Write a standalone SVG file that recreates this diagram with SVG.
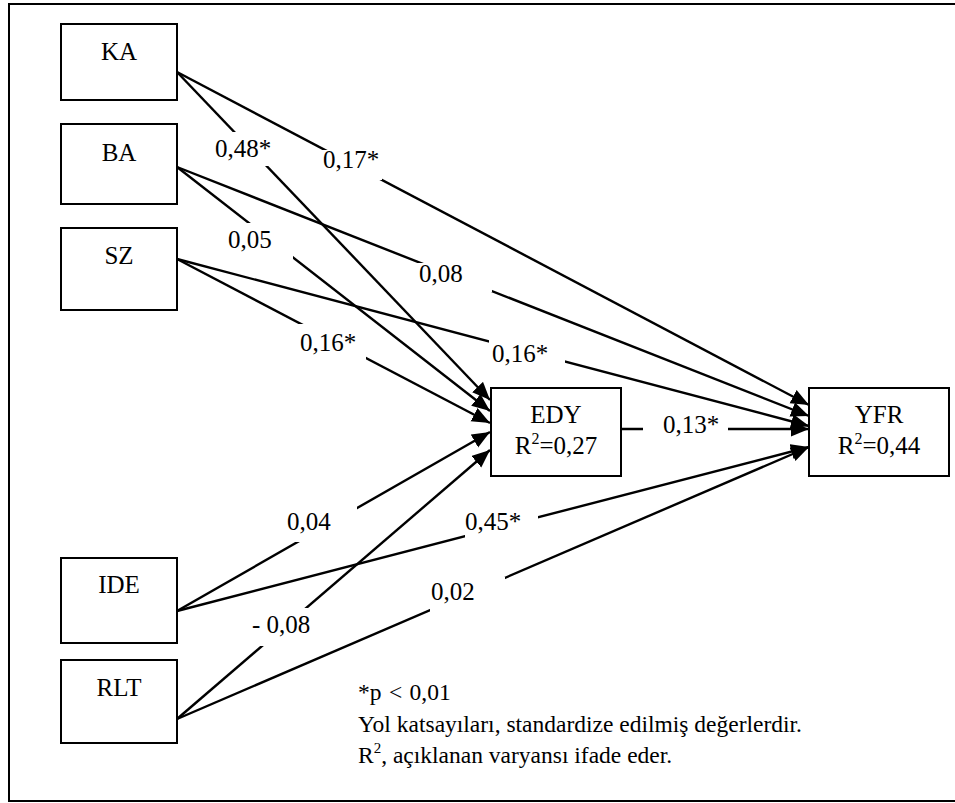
<svg xmlns="http://www.w3.org/2000/svg" width="955" height="803" viewBox="0 0 955 803">
<style>
.box{fill:#fff;stroke:#000;stroke-width:2}
.t{font-family:'Liberation Serif','Times New Roman','DejaVu Serif',serif;font-size:25px;fill:#000}
.lg{font-size:23.5px}
.c{text-anchor:middle}
.e{stroke:#000;stroke-width:2.4;fill:none;marker-end:url(#ah)}
.lb{fill:#fff;stroke:none}
</style>
<defs>
<marker id="ah" markerUnits="userSpaceOnUse" markerWidth="20" markerHeight="16" refX="18" refY="7.5" orient="auto">
<path d="M0,0 L18,7.5 L0,15 z" fill="#000"/>
</marker>
</defs>
<rect x="9" y="4" width="960" height="797" fill="#fff" stroke="#000" stroke-width="2"/>
<g id="connectors">
<line class="e" x1="177" y1="72" x2="490" y2="400"/>
<line class="e" x1="177" y1="167" x2="490" y2="411"/>
<line class="e" x1="177" y1="259" x2="490" y2="423"/>
<line class="e" x1="177" y1="611" x2="490" y2="432"/>
<line class="e" x1="177" y1="719" x2="490" y2="450"/>
<line class="e" x1="177" y1="72" x2="809" y2="405"/>
<line class="e" x1="177" y1="167" x2="809" y2="416"/>
<line class="e" x1="177" y1="259" x2="809" y2="426"/>
<line class="e" x1="621" y1="429" x2="809" y2="429"/>
<line class="e" x1="177" y1="611" x2="809" y2="447"/>
<line class="e" x1="177" y1="719" x2="809" y2="447"/>
</g>
<g id="labels">
<g><rect class="lb" x="213" y="132" width="63" height="34"/><text class="t" x="215" y="157">0,48*</text></g>
<g><rect class="lb" x="320" y="150" width="62" height="30"/><text class="t" x="323" y="168">0,17*</text></g>
<g><rect class="lb" x="226" y="223" width="67" height="36"/><text class="t" x="228" y="248">0,05</text></g>
<g><rect class="lb" x="417" y="263" width="75" height="29"/><text class="t" x="419" y="282">0,08</text></g>
<g><rect class="lb" x="297" y="324" width="69" height="37"/><text class="t" x="300" y="351">0,16*</text></g>
<g><rect class="lb" x="489" y="338" width="76" height="32"/><text class="t" x="492" y="362">0,16*</text></g>
<g><rect class="lb" x="643" y="414" width="85" height="26"/><text class="t" x="663" y="433">0,13*</text></g>
<g><rect class="lb" x="284" y="505" width="73" height="37"/><text class="t" x="287" y="530">0,04</text></g>
<g><rect class="lb" x="465" y="510" width="73" height="30"/><text class="t" x="465" y="530">0,45*</text></g>
<g><rect class="lb" x="250" y="608" width="62" height="38"/><text class="t" x="252" y="633">- 0,08</text></g>
<g><rect class="lb" x="430" y="577" width="75" height="35"/><text class="t" x="431" y="600">0,02</text></g>
</g>
<g id="KA"><rect class="box" x="61" y="24" width="116" height="76"/><text class="t c" x="119" y="60">KA</text></g>
<g id="BA"><rect class="box" x="61" y="124" width="116" height="80"/><text class="t c" x="119" y="161">BA</text></g>
<g id="SZ"><rect class="box" x="61" y="228" width="116" height="82"/><text class="t c" x="119" y="264">SZ</text></g>
<g id="IDE"><rect class="box" x="61" y="558" width="116" height="85"/><text class="t c" x="119" y="593">IDE</text></g>
<g id="RLT"><rect class="box" x="61" y="660" width="116" height="83"/><text class="t c" x="119" y="696">RLT</text></g>
<g id="EDY"><rect class="box" x="491" y="388" width="130" height="88"/><text class="t c" x="556" y="423">EDY</text><text class="t c" x="556" y="454">R<tspan font-size="16" dy="-10">2</tspan><tspan dy="10">=0,27</tspan></text></g>
<g id="YFR"><rect class="box" x="809" y="388" width="140" height="88"/><text class="t c" x="879" y="423">YFR</text><text class="t c" x="879" y="454">R<tspan font-size="16" dy="-10">2</tspan><tspan dy="10">=0,44</tspan></text></g>
<g id="legend">
<text class="t lg" x="358" y="700" word-spacing="1.5">*p &lt; 0,01</text>
<text class="t lg" x="358" y="732">Yol katsayıları, standardize edilmiş değerlerdir.</text>
<text class="t lg" x="358" y="763">R<tspan font-size="15" dy="-10">2</tspan><tspan dy="10">, açıklanan varyansı ifade eder.</tspan></text>
</g>
</svg>
